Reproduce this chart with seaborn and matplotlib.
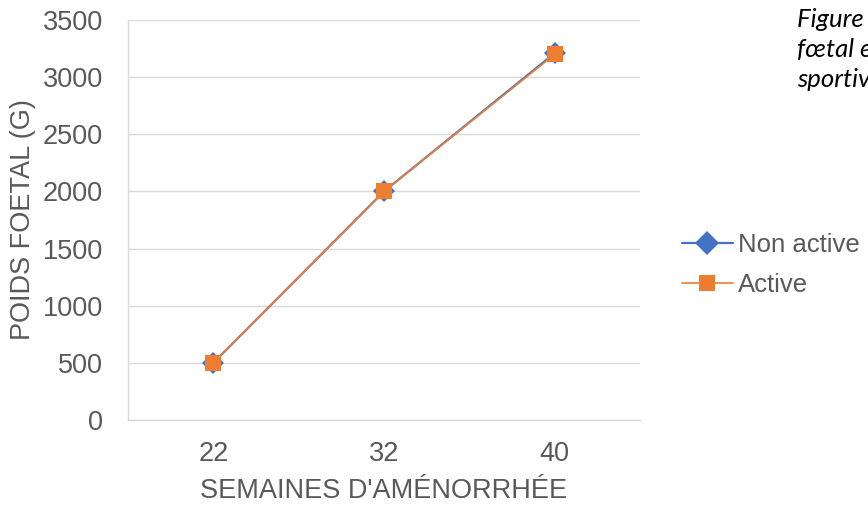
import pandas as pd
import matplotlib
matplotlib.use("Agg")
import matplotlib.pyplot as plt
import seaborn as sns

# Données
semaines = ["22", "32", "40"]
non_active = [500, 2000, 3210]
active = [500, 2000, 3200]
y_ticks = [0, 500, 1000, 1500, 2000, 2500, 3000, 3500]

df = pd.DataFrame({
    "semaines": semaines * 2,
    "poids": non_active + active,
    "groupe": ["Non active"] * 3 + ["Active"] * 3,
})

sns.set_theme(style="white")
plt.rcParams["font.family"] = ["Liberation Sans", "DejaVu Sans"]

gris = "#595959"
bleu = "#4472C4"
orange = "#ED7D31"

fig = plt.figure(figsize=(8.68, 5.07), dpi=100)
ax = fig.add_axes([0.1475, 0.1716, 0.5898, 0.789])

sns.lineplot(data=df[df["groupe"] == "Non active"], x="semaines", y="poids",
             color=bleu, marker="D", markersize=11, linewidth=1.6,
             markeredgewidth=0, label="Non active", ax=ax)
sns.lineplot(data=df[df["groupe"] == "Active"], x="semaines", y="poids",
             color=orange, marker="s", markersize=12, linewidth=1.2,
             markeredgewidth=0, label="Active", ax=ax)

ax.set_xlim(-0.5, 2.5)
ax.set_ylim(0, 3500)
ax.set_yticks(y_ticks)
ax.yaxis.grid(True, color="#D9D9D9", linewidth=1.0)
ax.set_axisbelow(True)
for s in ["top", "right"]:
    ax.spines[s].set_visible(False)
for s in ["left", "bottom"]:
    ax.spines[s].set_color("#D9D9D9")
    ax.spines[s].set_linewidth(1.0)

ax.tick_params(axis="both", length=0, labelsize=19.5, labelcolor=gris)
ax.tick_params(axis="x", pad=15)
ax.tick_params(axis="y", pad=18)
ax.set_xlabel("SEMAINES D'AMÉNORRHÉE", fontsize=19.5, color=gris, labelpad=8)
ax.set_ylabel("POIDS FOETAL (G)", fontsize=19.5, color=gris, labelpad=5)

leg = ax.legend(loc="center left", bbox_to_anchor=(1.036, 0.3875), frameon=False,
                fontsize=18.5, labelcolor=gris, handlelength=2.0,
                handletextpad=0.2, labelspacing=0.65)
leg.legend_handles[0].set_markersize(12.5)

fig.text(0.918, 0.994, "Figure 3 : Évolution du poids\nfœtal en fonction de l'activité\nsportive",
         fontsize=18.5, style="italic", family=["Lato", "DejaVu Sans"],
         color="black", va="top", ha="left", linespacing=1.38)

fig.savefig("out.png", dpi=100)
